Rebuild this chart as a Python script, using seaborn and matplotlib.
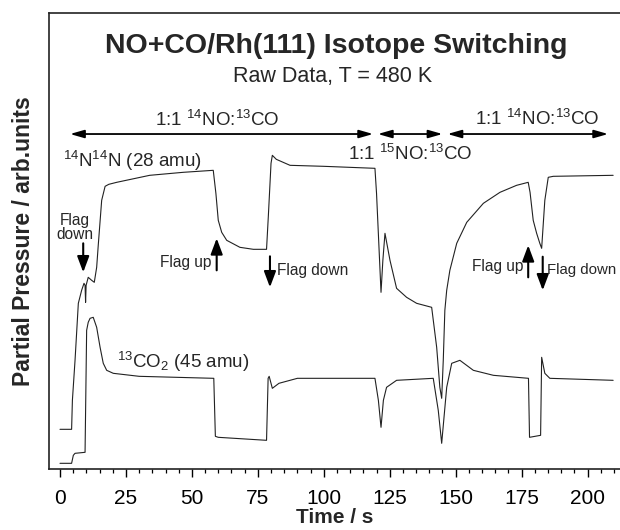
import numpy as np
import pandas as pd
import matplotlib
matplotlib.use("Agg")
import matplotlib.pyplot as plt
import seaborn as sns

# ---- data (time in s, partial pressure in arbitrary units) ----
n2_time = [0, 4.4, 4.7, 5.7, 6.95, 8.2, 9.1, 9.5, 9.7, 9.9, 10.7, 12.0, 13.0, 13.9,
           14.5, 15.8, 17.1, 18.5, 21.5, 34, 46.7, 58.1, 59.1, 60.0, 61.3, 63.2,
           68.2, 73.3, 78.3, 79.0, 80.0, 80.5, 82, 87.2, 100, 119.4, 120.0, 121.7,
           122.4, 123.2, 125.1, 127.6, 131.4, 135.2, 140.9, 142.8, 144.0, 144.7,
           145.3, 145.9, 146.6, 147.8, 150.4, 154.2, 160.5, 166.8, 173.1, 177.5,
           178.2, 179.4, 180.7, 181.9, 182.6, 183.8, 185.1, 187, 209.7]
n2_value = [40, 40, 69, 109, 166, 179, 186, 184, 167, 184, 192, 189, 187, 202,
            224, 269, 283, 285, 287, 294, 297, 299, 276, 249, 237, 229,
            222, 220, 220, 254, 306, 314, 310, 304, 303, 301, 276, 177,
            209, 236, 209, 181, 172, 166, 162, 122, 82, 71,
            109, 159, 179, 199, 226, 247, 266, 277, 284, 287,
            277, 249, 236, 226, 221, 269, 292, 293, 294]

co2_time = [0, 4.4, 5.05, 5.7, 9.5, 10.1, 10.7, 11.4, 12.6, 13.9, 15.2, 16.4, 17.7,
            20.2, 30, 58.3, 58.9, 60, 78.3, 78.9, 79.3, 80.5, 83, 90, 119.4, 120.7,
            121.7, 122.6, 123.8, 127.6, 141.5, 143.4, 144.7, 146.6, 148.5, 151.6,
            156.7, 164.3, 177.6, 178.0, 182.2, 182.6, 183.8, 185.7, 209.7]
co2_value = [6, 6, 14, 16, 17, 139, 147, 151, 152, 142, 122, 106, 99,
             96, 93, 91, 33, 32, 29, 91, 93, 81, 86, 91, 91, 69,
             42, 69, 82, 89, 91, 59, 26, 82, 106, 109,
             99, 94, 91, 32, 34, 112, 96, 91, 89]

x_ticks = [0, 25, 50, 75, 100, 125, 150, 175, 200]

sns.set_theme(style="ticks")
plt.rcParams["font.family"] = ["Liberation Sans", "DejaVu Sans"]
plt.rcParams["mathtext.fontset"] = "custom"
plt.rcParams["mathtext.rm"] = "Liberation Sans"
plt.rcParams["mathtext.it"] = "Liberation Sans:italic"
plt.rcParams["mathtext.bf"] = "Liberation Sans:bold"
plt.rcParams["mathtext.default"] = "regular"

fig = plt.figure(figsize=(6.2, 5.3), dpi=100)
fig.patch.set_facecolor("white")
ax = fig.add_axes([0.0795, 0.1145, 0.9205, 0.8615])
ax.set_facecolor("white")

df_n2 = pd.DataFrame({"t": n2_time, "p": n2_value})
df_co2 = pd.DataFrame({"t": co2_time, "p": co2_value})
sns.lineplot(data=df_n2, x="t", y="p", color="#222222", lw=0.8, ax=ax,
             estimator=None, sort=False)
sns.lineplot(data=df_co2, x="t", y="p", color="#222222", lw=0.8, ax=ax,
             estimator=None, sort=False)

ax.set_xlim(-4.06, 212.3)
ax.set_ylim(0, 456.6)
ax.set_yticks([])
ax.set_xticks(x_ticks)
ax.set_xticks(np.arange(0, 215, 5), minor=True)
ax.tick_params(axis="x", which="major", direction="out", length=6, width=1.0,
               labelsize=15, pad=8, color="black", labelcolor="black")
ax.tick_params(axis="x", which="minor", direction="out", length=3.2, width=0.9,
               color="black")
for s in ["left", "bottom", "top"]:
    ax.spines[s].set_visible(True)
    ax.spines[s].set_linewidth(1.2)
    ax.spines[s].set_color("#222222")
ax.spines["right"].set_visible(False)

ax.set_xlabel("Time / s", fontsize=15, fontweight="bold", labelpad=0)
ax.set_ylabel("Partial Pressure / arb.units", fontsize=16.5, fontweight="bold")
ax.yaxis.set_label_coords(-0.025, 0.5)

# titles inside the axes
ax.text(104.6, 416, "NO+CO/Rh(111) Isotope Switching", fontsize=20.5,
        fontweight="bold", ha="center", va="baseline")
ax.text(103.5, 387.6, "Raw Data, T = 480 K", fontsize=15.5,
        ha="center", va="baseline")

# gas composition intervals
lab = 13.5
ax.text(59.5, 343.6, "1:1 $^{14}$NO:$^{13}$CO", fontsize=lab, ha="center", va="baseline")
ax.text(180.8, 344.3, "1:1 $^{14}$NO:$^{13}$CO", fontsize=lab, ha="center", va="baseline")
ax.text(132.7, 309, "1:1 $^{15}$NO:$^{13}$CO", fontsize=lab, ha="center", va="baseline")
ax.text(1.1, 302.6, "$^{14}$N$^{14}$N (28 amu)", fontsize=lab, ha="left", va="baseline")
ax.text(21.6, 101, "$^{13}$CO$_{2}$ (45 amu)", fontsize=lab, ha="left", va="baseline")

dbl = dict(arrowstyle="<|-|>,head_length=0.7,head_width=0.2", color="black",
           lw=1.3, shrinkA=0, shrinkB=0, mutation_scale=12)
for a, b in [(3.8, 118.7), (120.5, 145.0), (146.9, 207.8)]:
    ax.annotate("", xy=(b, 335.3), xytext=(a, 335.3), arrowprops=dbl)

# flag annotations
fl = dict(arrowstyle="-|>,head_length=0.8,head_width=0.3", color="black",
          lw=1.5, shrinkA=0, shrinkB=0, mutation_scale=12)
fs = 11.2
ax.text(5.7, 242, "Flag\ndown", fontsize=fs, ha="center", va="center", linespacing=0.95)
ax.annotate("", xy=(8.8, 197), xytext=(8.8, 226), arrowprops=fl)

ax.text(57.5, 207, "Flag up", fontsize=fs, ha="right", va="center")
ax.annotate("", xy=(59.4, 231), xytext=(59.4, 199), arrowprops=fl)

ax.text(82.1, 199, "Flag down", fontsize=fs, ha="left", va="center")
ax.annotate("", xy=(79.6, 182), xytext=(79.6, 213), arrowprops=fl)

ax.text(175.6, 202.6, "Flag up", fontsize=fs, ha="right", va="center")
ax.annotate("", xy=(177.5, 224), xytext=(177.5, 192), arrowprops=fl)

ax.text(184.5, 199, "Flag down", fontsize=10.8, ha="left", va="center")
ax.annotate("", xy=(183.0, 179), xytext=(183.0, 212.6), arrowprops=fl)

fig.savefig("out.png", dpi=100, facecolor="white")
